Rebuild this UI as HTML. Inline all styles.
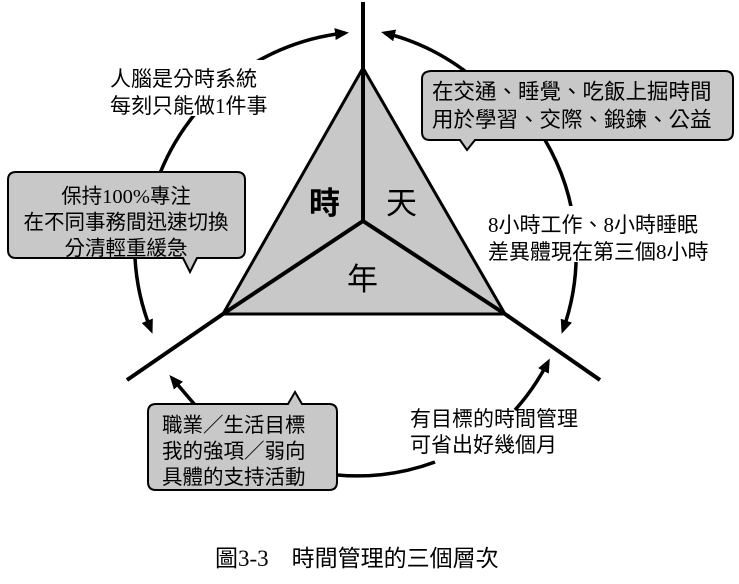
<!DOCTYPE html>
<html><head><meta charset="utf-8"><style>
body{margin:0;background:#fff;}
svg{display:block}
text{font-family:"Liberation Serif","Noto Sans CJK TC",sans-serif;fill:#000;}
</style></head><body>
<svg width="739" height="584" viewBox="0 0 739 584" xmlns="http://www.w3.org/2000/svg">
<defs>
<marker id="ar" markerWidth="14" markerHeight="12" refX="10" refY="6" orient="auto" markerUnits="userSpaceOnUse">
<path d="M0,0 L14,6 L0,12 Z" fill="#000"/>
</marker>
</defs>
<g fill="none" stroke="#000" stroke-width="3.5">
<path d="M150,205 A225,225 0 0 1 345,33" marker-end="url(#ar)"/>
<path d="M485,88 A225,225 0 0 0 385,33" marker-end="url(#ar)"/>
<path d="M545,140 A225,225 0 0 1 563,330" marker-end="url(#ar)"/>
<path d="M135,258 A225,225 0 0 0 151,330" marker-end="url(#ar)"/>
<path d="M195,405 L172,378" marker-end="url(#ar)"/>
<path d="M337,475 A225,225 0 0 0 435,462"/>
<path d="M515,410 A225,225 0 0 0 548,362" marker-end="url(#ar)"/>
</g>
<polygon points="363,68 223,314 505,314" fill="#c8c8c8" stroke="#000" stroke-width="3"/>
<g stroke="#000" stroke-width="4" fill="none">
<line x1="363" y1="2" x2="363" y2="222"/>
<polyline points="127,380 223,314 363,221 505,314 600,380"/>
</g>
<text x="309" y="214" font-size="31" font-weight="bold">時</text>
<text x="386" y="214" font-size="31">天</text>
<text x="347" y="290" font-size="31">年</text>
<g fill="#c8c8c8" stroke="#000" stroke-width="2">
<path d="M432,71 H725 Q733,71 733,79 V132 Q733,140 725,140 H475 L467,150 L460,140 H430 Q422,140 422,132 V79 Q422,71 432,71 Z"/>
<path d="M16,172 H237 Q245,172 245,180 V250 Q245,258 237,258 H197 L190,272 L183,258 H16 Q8,258 8,250 V180 Q8,172 16,172 Z"/>
<path d="M156,404 H288 L295,392 L302,404 H329 Q337,404 337,412 V482 Q337,490 329,490 H156 Q148,490 148,482 V412 Q148,404 156,404 Z"/>
</g>
<g font-size="21.5">
<text x="432" y="99">在交通、睡覺、吃飯上掘時間</text>
<text x="432" y="127">用於學習、交際、鍛鍊、公益</text>
<text x="162" y="432" font-size="20.5">職業／生活目標</text>
<text x="162" y="458" font-size="20.5">我的強項／弱向</text>
<text x="162" y="484" font-size="20.5">具體的支持活動</text>
</g>
<g font-size="20.5">
<text x="126" y="203" text-anchor="middle">保持100%專注</text>
<text x="126" y="229" text-anchor="middle">在不同事務間迅速切換</text>
<text x="126" y="255" text-anchor="middle">分清輕重緩急</text>
</g>
<g font-size="21">
<rect x="108" y="60" width="168" height="56" fill="#fff"/>
<text x="110" y="86">人腦是分時系統</text>
<text x="110" y="113">每刻只能做1件事</text>
<rect x="486" y="206" width="240" height="56" fill="#fff"/>
<text x="488" y="232">8小時工作、8小時睡眠</text>
<text x="488" y="259">差異體現在第三個8小時</text>
<text x="410" y="426">有目標的時間管理</text>
<text x="410" y="452">可省出好幾個月</text>
</g>
<text x="215" y="566" font-size="23">圖3-3　時間管理的三個層次</text>
</svg>
</body></html>
